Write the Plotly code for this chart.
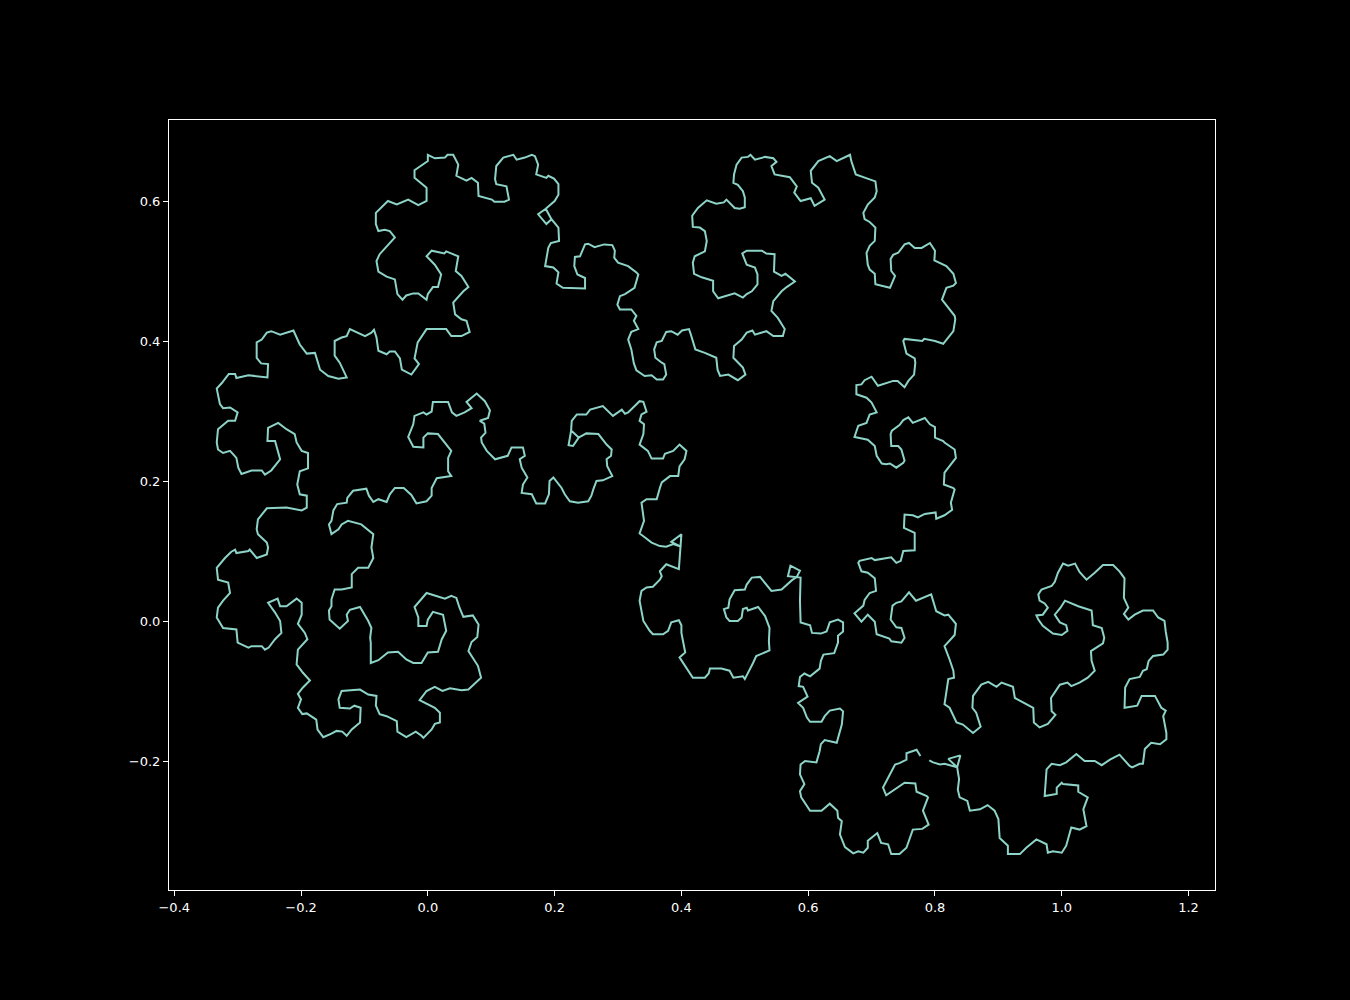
import plotly.graph_objects as go

# vertices of the curve (data units), in drawing order
curve_x = [
    0.777, 0.771, 0.755, 0.755, 0.744, 0.737, 0.729, 0.718, 0.723, 0.752, 0.769, 0.771, 0.787, 0.789, 0.781, 0.790,
    0.780, 0.765, 0.755, 0.744, 0.731, 0.726, 0.715, 0.709, 0.694, 0.694, 0.687, 0.679, 0.671, 0.658, 0.650, 0.653,
    0.647, 0.646, 0.634, 0.621, 0.603, 0.589, 0.587, 0.594, 0.587, 0.588, 0.595, 0.613, 0.618, 0.620, 0.626, 0.645,
    0.653, 0.655, 0.650, 0.634, 0.626, 0.621, 0.603, 0.598, 0.592, 0.584, 0.599, 0.592, 0.585, 0.587, 0.594, 0.603,
    0.618, 0.620, 0.624, 0.641, 0.647, 0.647, 0.655, 0.655, 0.647, 0.634, 0.629, 0.620, 0.606, 0.603, 0.588, 0.587,
    0.588, 0.568, 0.572, 0.587, 0.582, 0.574, 0.558, 0.542, 0.524, 0.511, 0.503, 0.500, 0.484, 0.476, 0.474, 0.467,
    0.471, 0.476, 0.489, 0.495, 0.497, 0.503, 0.505, 0.521, 0.532, 0.539, 0.538, 0.539, 0.518, 0.513, 0.500, 0.497,
    0.482, 0.476, 0.463, 0.445, 0.443, 0.437, 0.418, 0.397, 0.406, 0.400, 0.400, 0.396, 0.384, 0.379, 0.371, 0.355,
    0.350, 0.340, 0.334, 0.337, 0.345, 0.355, 0.366, 0.369, 0.366, 0.376, 0.396, 0.400, 0.384, 0.400, 0.387, 0.376,
    0.366, 0.353, 0.340, 0.334, 0.341, 0.337, 0.345, 0.361, 0.366, 0.369, 0.382, 0.395, 0.397, 0.405, 0.408, 0.397,
    0.387, 0.374, 0.371, 0.353, 0.347, 0.334, 0.340, 0.341, 0.334, 0.337, 0.345, 0.340, 0.334, 0.316, 0.311, 0.306,
    0.292, 0.276, 0.256, 0.250, 0.235, 0.227, 0.226, 0.222, 0.229, 0.238, 0.226, 0.238, 0.250, 0.269, 0.282, 0.290,
    0.289, 0.282, 0.283, 0.291, 0.276, 0.266, 0.261, 0.258, 0.253, 0.237, 0.224, 0.216, 0.211, 0.207, 0.198, 0.192,
    0.191, 0.185, 0.171, 0.164, 0.153, 0.148, 0.150, 0.157, 0.148, 0.145, 0.153, 0.150, 0.132, 0.126, 0.106, 0.093,
    0.085, 0.084, 0.091, 0.089, 0.082, 0.095, 0.098, 0.090, 0.077, 0.061, 0.069, 0.058, 0.045, 0.038, 0.032, 0.008,
    0.006, -0.002, -0.007, -0.021, -0.023, -0.031, -0.023, -0.007, -0.007, 0.000, 0.016, 0.027, 0.037, 0.032, 0.032,
    0.037, 0.024, 0.014, 0.006, 0.006, -0.002, -0.018, -0.026, -0.038, -0.052, -0.060, -0.065, -0.078, -0.086, -0.093,
    -0.097, -0.118, -0.127, -0.128, -0.143, -0.149, -0.152, -0.156, -0.152, -0.141, -0.136, -0.126, -0.105, -0.086,
    -0.089, -0.086, -0.094, -0.110, -0.120, -0.120, -0.136, -0.147, -0.152, -0.152, -0.156, -0.155, -0.139, -0.126,
    -0.128, -0.123, -0.107, -0.094, -0.089, -0.091, -0.090, -0.090, -0.078, -0.063, -0.047, -0.034, -0.023, -0.010,
    0.000, 0.016, 0.022, 0.029, 0.027, 0.024, 0.008, 0.000, -0.002, -0.015, -0.015, -0.021, -0.002, 0.027, 0.037,
    0.045, 0.050, 0.056, 0.071, 0.080, 0.078, 0.069, 0.064, 0.079, 0.084, 0.064, 0.053, 0.035, 0.023, 0.011, -0.002,
    -0.013, 0.011, 0.019, 0.019, 0.011, 0.006, -0.007, -0.010, -0.019, -0.034, -0.048, -0.049, -0.065, -0.076, -0.082,
    -0.081, -0.094, -0.107, -0.136, -0.141, -0.139, -0.123, -0.116, -0.106, -0.107, -0.120, -0.128, -0.135, -0.144,
    -0.152, -0.165, -0.174, -0.176, -0.191, -0.198, -0.205, -0.200, -0.205, -0.197, -0.186, -0.197, -0.207, -0.205,
    -0.190, -0.194, -0.205, -0.199, -0.199, -0.207, -0.223, -0.233, -0.237, -0.252, -0.241, -0.233, -0.231, -0.241,
    -0.251, -0.257, -0.262, -0.278, -0.283, -0.300, -0.302, -0.323, -0.333, -0.331, -0.323, -0.312, -0.315, -0.331,
    -0.333, -0.320, -0.310, -0.304, -0.302, -0.283, -0.281, -0.270, -0.254, -0.252, -0.254, -0.268, -0.270, -0.268,
    -0.254, -0.223, -0.199, -0.191, -0.191, -0.202, -0.206, -0.202, -0.189, -0.189, -0.199, -0.207, -0.210, -0.223,
    -0.236, -0.252, -0.253, -0.241, -0.233, -0.241, -0.247, -0.257, -0.262, -0.278, -0.294, -0.299, -0.302, -0.312,
    -0.323, -0.331, -0.333, -0.331, -0.315, -0.304, -0.300, -0.312, -0.323, -0.328, -0.331, -0.333, -0.325, -0.314,
    -0.304, -0.302, -0.283, -0.273, -0.253, -0.252, -0.263, -0.270, -0.270, -0.262, -0.254, -0.247, -0.233, -0.212,
    -0.202, -0.191, -0.178, -0.170, -0.157, -0.141, -0.128, -0.139, -0.147, -0.147, -0.136, -0.128, -0.123, -0.099,
    -0.089, -0.085, -0.081, -0.078, -0.065, -0.060, -0.052, -0.044, -0.041, -0.026, -0.014, -0.021, -0.016, -0.002,
    0.029, 0.037, 0.053, 0.066, 0.061, 0.053, 0.043, 0.040, 0.056, 0.064, 0.053, 0.044, 0.048, 0.029, 0.026, 0.006,
    -0.002, 0.011, 0.021, 0.016, 0.008, 0.000, -0.002, -0.015, -0.023, -0.034, -0.040, -0.048, -0.052, -0.065, -0.078,
    -0.081, -0.076, -0.063, -0.052, -0.060, -0.068, -0.078, -0.082, -0.082, -0.063, -0.049, -0.031, -0.015, -0.002,
    -0.002, -0.021, -0.021, 0.000, 0.000, 0.011, 0.027, 0.031, 0.040, 0.048, 0.045, 0.061, 0.069, 0.079, 0.080, 0.101,
    0.105, 0.121, 0.128, 0.124, 0.108, 0.106, 0.108, 0.119, 0.135, 0.140, 0.153, 0.164, 0.169, 0.174, 0.171, 0.187,
    0.190, 0.199, 0.206, 0.206, 0.200, 0.186, 0.174, 0.187, 0.195, 0.186, 0.195, 0.206, 0.207, 0.194, 0.190, 0.185,
    0.198, 0.206, 0.203, 0.213, 0.248, 0.248, 0.236, 0.231, 0.232, 0.240, 0.248, 0.253, 0.263, 0.278, 0.291, 0.295,
    0.294, 0.300, 0.316, 0.329, 0.332, 0.326, 0.311, 0.303, 0.299, 0.303, 0.321, 0.329, 0.325, 0.332, 0.321, 0.316,
    0.321, 0.325, 0.329, 0.342, 0.353, 0.361, 0.371, 0.376, 0.373, 0.369, 0.359, 0.357, 0.361, 0.369, 0.376, 0.384,
    0.394, 0.401, 0.412, 0.415, 0.422, 0.437, 0.455, 0.457, 0.461, 0.474, 0.489, 0.501, 0.497, 0.482, 0.483, 0.495,
    0.503, 0.512, 0.516, 0.534, 0.545, 0.560, 0.563, 0.552, 0.542, 0.545, 0.558, 0.566, 0.579, 0.564, 0.558, 0.546,
    0.547, 0.534, 0.527, 0.518, 0.503, 0.496, 0.503, 0.516, 0.520, 0.520, 0.511, 0.503, 0.497, 0.484, 0.471, 0.458,
    0.450, 0.450, 0.432, 0.420, 0.418, 0.421, 0.437, 0.440, 0.437, 0.429, 0.418, 0.417, 0.426, 0.440, 0.455, 0.467,
    0.471, 0.484, 0.492, 0.500, 0.500, 0.497, 0.489, 0.482, 0.483, 0.487, 0.495, 0.505, 0.509, 0.516, 0.532, 0.545,
    0.550, 0.542, 0.547, 0.558, 0.571, 0.582, 0.578, 0.588, 0.604, 0.610, 0.626, 0.616, 0.606, 0.604, 0.616, 0.634,
    0.645, 0.666, 0.668, 0.675, 0.689, 0.706, 0.708, 0.705, 0.694, 0.687, 0.689, 0.697, 0.706, 0.705, 0.697, 0.692,
    0.694, 0.697, 0.705, 0.706, 0.729, 0.737, 0.731, 0.730, 0.734, 0.742, 0.752, 0.759, 0.768, 0.779, 0.792, 0.800,
    0.799, 0.818, 0.829, 0.833, 0.829, 0.818, 0.811, 0.821, 0.831, 0.832, 0.829, 0.813, 0.800, 0.783, 0.780, 0.752,
    0.750, 0.755, 0.768, 0.769, 0.767, 0.758, 0.752, 0.741, 0.734, 0.710, 0.700, 0.689, 0.684, 0.676, 0.676, 0.692,
    0.700, 0.708, 0.697, 0.692, 0.679, 0.673, 0.694, 0.705, 0.708, 0.716, 0.723, 0.729, 0.739, 0.750, 0.752, 0.747,
    0.742, 0.731, 0.730, 0.732, 0.744, 0.750, 0.758, 0.765, 0.784, 0.792, 0.800, 0.800, 0.813, 0.815, 0.831, 0.833,
    0.815, 0.814, 0.829, 0.831, 0.825, 0.827, 0.815, 0.802, 0.801, 0.784, 0.773, 0.765, 0.752, 0.751, 0.768, 0.768,
    0.750, 0.746, 0.739, 0.731, 0.718, 0.705, 0.700, 0.681, 0.679, 0.684, 0.694, 0.705, 0.707, 0.697, 0.689, 0.687,
    0.673, 0.684, 0.694, 0.700, 0.705, 0.708, 0.728, 0.731, 0.747, 0.752, 0.747, 0.739, 0.730, 0.733, 0.739, 0.747,
    0.759, 0.770, 0.794, 0.802, 0.815, 0.821, 0.833, 0.831, 0.815, 0.823, 0.829, 0.830, 0.821, 0.815, 0.823, 0.834,
    0.844, 0.860, 0.872, 0.865, 0.859, 0.860, 0.873, 0.884, 0.897, 0.905, 0.923, 0.926, 0.955, 0.956, 0.965, 0.978,
    0.990, 0.984, 0.983, 0.997, 1.009, 1.015, 1.028, 1.041, 1.052, 1.047, 1.046, 1.065, 1.067, 1.063, 1.049, 1.048,
    1.047, 1.026, 1.005, 0.998, 0.989, 0.997, 1.007, 1.009, 1.000, 0.986, 0.970, 0.963, 0.960, 0.970, 0.978, 0.973,
    0.965, 0.963, 0.968, 0.984, 0.989, 0.994, 1.002, 1.010, 1.021, 1.028, 1.039, 1.052, 1.065, 1.081, 1.091, 1.099,
    1.098, 1.105, 1.098, 1.105, 1.115, 1.128, 1.144, 1.152, 1.162, 1.164, 1.167, 1.167, 1.160, 1.144, 1.137, 1.134,
    1.128, 1.123, 1.107, 1.100, 1.099, 1.119, 1.126, 1.134, 1.147, 1.157, 1.164, 1.160, 1.165, 1.165, 1.155, 1.141,
    1.131, 1.128, 1.123, 1.111, 1.107, 1.091, 1.076, 1.063, 1.052, 1.036, 1.023, 1.007, 0.997, 0.984, 0.976, 0.973,
    0.992, 0.992, 1.000, 1.002, 1.026, 1.026, 1.041, 1.034, 1.039, 1.028, 1.015, 1.007, 1.000, 0.986, 0.978, 0.976,
    0.960, 0.944, 0.934, 0.915, 0.915, 0.902, 0.900, 0.894, 0.883, 0.871, 0.855, 0.851, 0.839, 0.836, 0.838, 0.835,
    0.840, 0.821, 0.835, 0.815, 0.808, 0.797, 0.791,
]

curve_y = [
    -0.192, -0.183, -0.188, -0.197, -0.202, -0.204, -0.218, -0.237, -0.248, -0.230, -0.231, -0.243, -0.249, -0.251,
    -0.270, -0.290, -0.296, -0.297, -0.323, -0.332, -0.332, -0.318, -0.316, -0.302, -0.313, -0.323, -0.330, -0.328,
    -0.331, -0.322, -0.304, -0.285, -0.280, -0.270, -0.260, -0.270, -0.270, -0.251, -0.242, -0.232, -0.218, -0.204,
    -0.199, -0.201, -0.185, -0.175, -0.169, -0.173, -0.147, -0.128, -0.124, -0.127, -0.135, -0.143, -0.143, -0.137,
    -0.123, -0.116, -0.107, -0.093, -0.092, -0.079, -0.074, -0.078, -0.067, -0.056, -0.047, -0.045, -0.030, -0.020,
    -0.014, -0.001, 0.003, -0.001, -0.014, -0.017, -0.016, -0.005, -0.001, 0.030, 0.063, 0.065, 0.080, 0.073, 0.064,
    0.059, 0.046, 0.044, 0.064, 0.063, 0.053, 0.046, 0.045, 0.032, 0.020, 0.018, 0.006, 0.001, 0.001, 0.006, 0.018,
    0.020, 0.016, 0.021, 0.008, -0.009, -0.028, -0.041, -0.049, -0.059, -0.082, -0.078, -0.080, -0.070, -0.067,
    -0.067, -0.074, -0.080, -0.080, -0.051, -0.044, -0.016, -0.005, 0.002, -0.001, -0.013, -0.018, -0.018, -0.013,
    0.001, 0.030, 0.044, 0.049, 0.050, 0.060, 0.065, 0.072, 0.082, 0.075, 0.125, 0.114, 0.107, 0.111, 0.107, 0.108,
    0.113, 0.122, 0.126, 0.144, 0.170, 0.175, 0.175, 0.191, 0.199, 0.208, 0.208, 0.222, 0.232, 0.244, 0.253, 0.244,
    0.240, 0.233, 0.233, 0.244, 0.253, 0.268, 0.282, 0.287, 0.296, 0.300, 0.314, 0.315, 0.299, 0.297, 0.303, 0.294,
    0.308, 0.303, 0.296, 0.296, 0.287, 0.273, 0.252, 0.251, 0.263, 0.273, 0.263, 0.269, 0.268, 0.253, 0.246, 0.237,
    0.232, 0.222, 0.208, 0.202, 0.201, 0.189, 0.180, 0.172, 0.170, 0.172, 0.182, 0.191, 0.196, 0.206, 0.201, 0.182,
    0.169, 0.169, 0.182, 0.183, 0.184, 0.196, 0.206, 0.220, 0.232, 0.237, 0.249, 0.249, 0.237, 0.232, 0.244, 0.256,
    0.263, 0.270, 0.283, 0.287, 0.291, 0.302, 0.315, 0.326, 0.314, 0.305, 0.299, 0.294, 0.299, 0.314, 0.314, 0.300,
    0.296, 0.299, 0.294, 0.282, 0.264, 0.250, 0.249, 0.263, 0.269, 0.268, 0.256, 0.244, 0.234, 0.215, 0.208, 0.206,
    0.205, 0.191, 0.180, 0.172, 0.169, 0.181, 0.191, 0.191, 0.182, 0.171, 0.175, 0.171, 0.180, 0.190, 0.187, 0.177,
    0.170, 0.168, 0.159, 0.144, 0.139, 0.125, 0.132, 0.139, 0.144, 0.139, 0.125, 0.106, 0.091, 0.077, 0.077, 0.068,
    0.049, 0.046, 0.046, 0.032, 0.022, 0.016, 0.003, -0.010, 0.001, 0.010, 0.017, 0.021, 0.001, -0.009, -0.023,
    -0.030, -0.059, -0.055, -0.044, -0.043, -0.054, -0.059, -0.059, -0.044, -0.043, -0.025, -0.013, -0.004, 0.010,
    0.014, 0.003, -0.006, -0.006, 0.006, 0.021, 0.041, 0.033, 0.037, 0.034, 0.020, 0.007, 0.009, -0.004, -0.022,
    -0.029, -0.042, -0.063, -0.080, -0.097, -0.098, -0.095, -0.099, -0.093, -0.099, -0.112, -0.123, -0.130, -0.144,
    -0.146, -0.154, -0.166, -0.163, -0.157, -0.165, -0.157, -0.142, -0.135, -0.132, -0.120, -0.106, -0.104, -0.097,
    -0.099, -0.111, -0.123, -0.124, -0.120, -0.123, -0.144, -0.154, -0.163, -0.157, -0.156, -0.160, -0.165, -0.154,
    -0.140, -0.131, -0.132, -0.123, -0.111, -0.103, -0.094, -0.084, -0.073, -0.061, -0.040, -0.025, -0.016, -0.003,
    0.010, 0.027, 0.033, 0.022, 0.022, 0.033, 0.027, 0.013, 0.001, -0.016, -0.025, -0.037, -0.040, -0.035, -0.035,
    -0.037, -0.030, -0.011, -0.009, 0.006, 0.020, 0.030, 0.041, 0.056, 0.060, 0.077, 0.091, 0.100, 0.103, 0.098,
    0.101, 0.103, 0.091, 0.096, 0.106, 0.113, 0.125, 0.132, 0.146, 0.162, 0.163, 0.159, 0.163, 0.180, 0.182, 0.196,
    0.215, 0.219, 0.241, 0.244, 0.256, 0.268, 0.275, 0.284, 0.277, 0.258, 0.258, 0.232, 0.222, 0.216, 0.210, 0.216,
    0.216, 0.211, 0.220, 0.234, 0.244, 0.241, 0.246, 0.256, 0.275, 0.287, 0.287, 0.299, 0.306, 0.305, 0.311, 0.325,
    0.333, 0.341, 0.354, 0.354, 0.348, 0.352, 0.351, 0.349, 0.368, 0.369, 0.377, 0.399, 0.403, 0.413, 0.415, 0.410,
    0.416, 0.396, 0.383, 0.384, 0.360, 0.351, 0.347, 0.349, 0.370, 0.380, 0.401, 0.406, 0.408, 0.418, 0.408, 0.413,
    0.417, 0.406, 0.387, 0.382, 0.386, 0.386, 0.376, 0.360, 0.353, 0.368, 0.376, 0.399, 0.418, 0.418, 0.408, 0.408,
    0.414, 0.430, 0.432, 0.439, 0.456, 0.472, 0.478, 0.494, 0.501, 0.522, 0.529, 0.526, 0.530, 0.522, 0.510, 0.496,
    0.478, 0.478, 0.468, 0.460, 0.469, 0.469, 0.466, 0.460, 0.468, 0.489, 0.493, 0.500, 0.515, 0.525, 0.538, 0.549,
    0.558, 0.560, 0.558, 0.568, 0.584, 0.601, 0.596, 0.603, 0.595, 0.601, 0.620, 0.634, 0.645, 0.658, 0.667, 0.662,
    0.663, 0.667, 0.667, 0.653, 0.637, 0.630, 0.634, 0.627, 0.608, 0.603, 0.600, 0.600, 0.603, 0.622, 0.625, 0.632,
    0.651, 0.663, 0.667, 0.660, 0.663, 0.667, 0.665, 0.653, 0.639, 0.634, 0.637, 0.633, 0.625, 0.610, 0.601, 0.590,
    0.582, 0.568, 0.575, 0.590, 0.575, 0.563, 0.544, 0.541, 0.534, 0.508, 0.506, 0.499, 0.483, 0.477, 0.476, 0.491,
    0.496, 0.508, 0.521, 0.522, 0.539, 0.540, 0.535, 0.539, 0.538, 0.530, 0.520, 0.513, 0.508, 0.499, 0.496, 0.477,
    0.468, 0.465, 0.453, 0.446, 0.446, 0.437, 0.430, 0.418, 0.414, 0.403, 0.389, 0.369, 0.359, 0.351, 0.352, 0.346,
    0.346, 0.353, 0.368, 0.370, 0.377, 0.389, 0.399, 0.401, 0.414, 0.415, 0.410, 0.416, 0.418, 0.410, 0.389, 0.384,
    0.377, 0.360, 0.351, 0.353, 0.345, 0.353, 0.363, 0.377, 0.394, 0.403, 0.413, 0.416, 0.410, 0.415, 0.408, 0.408,
    0.418, 0.434, 0.444, 0.458, 0.472, 0.478, 0.486, 0.497, 0.494, 0.500, 0.525, 0.526, 0.530, 0.530, 0.530, 0.526,
    0.510, 0.506, 0.496, 0.482, 0.472, 0.468, 0.463, 0.469, 0.466, 0.462, 0.472, 0.487, 0.492, 0.497, 0.513, 0.522,
    0.529, 0.544, 0.558, 0.563, 0.564, 0.580, 0.591, 0.602, 0.597, 0.599, 0.603, 0.591, 0.590, 0.592, 0.606, 0.615,
    0.624, 0.627, 0.639, 0.653, 0.663, 0.664, 0.667, 0.660, 0.664, 0.662, 0.657, 0.651, 0.639, 0.637, 0.635, 0.622,
    0.613, 0.601, 0.605, 0.594, 0.603, 0.620, 0.627, 0.644, 0.658, 0.665, 0.658, 0.667, 0.658, 0.639, 0.634, 0.629,
    0.615, 0.606, 0.596, 0.584, 0.575, 0.571, 0.563, 0.544, 0.537, 0.527, 0.510, 0.503, 0.497, 0.482, 0.477, 0.494,
    0.501, 0.518, 0.524, 0.527, 0.539, 0.541, 0.534, 0.534, 0.541, 0.530, 0.516, 0.508, 0.497, 0.484, 0.480, 0.477,
    0.460, 0.449, 0.437, 0.432, 0.415, 0.397, 0.401, 0.404, 0.401, 0.404, 0.401, 0.383, 0.376, 0.370, 0.353, 0.344,
    0.335, 0.344, 0.344, 0.337, 0.350, 0.345, 0.339, 0.338, 0.325, 0.320, 0.313, 0.299, 0.296, 0.284, 0.280, 0.264,
    0.260, 0.251, 0.237, 0.226, 0.225, 0.226, 0.220, 0.227, 0.230, 0.246, 0.251, 0.251, 0.268, 0.273, 0.281, 0.288,
    0.292, 0.284, 0.291, 0.282, 0.278, 0.263, 0.258, 0.256, 0.246, 0.234, 0.213, 0.196, 0.191, 0.189, 0.170, 0.160,
    0.152, 0.147, 0.156, 0.154, 0.149, 0.152, 0.153, 0.134, 0.127, 0.102, 0.101, 0.087, 0.084, 0.092, 0.090, 0.088,
    0.091, 0.087, 0.084, 0.072, 0.070, 0.062, 0.044, 0.041, 0.031, 0.023, 0.012, 0.000, 0.010, 0.005, 0.000, -0.018,
    -0.024, -0.028, -0.030, -0.023, -0.009, -0.008, 0.003, 0.023, 0.027, 0.029, 0.042, 0.030, 0.039, 0.015, 0.009,
    0.010, -0.003, -0.019, -0.035, -0.054, -0.070, -0.080, -0.082, -0.118, -0.123, -0.144, -0.147, -0.159, -0.150,
    -0.130, -0.123, -0.106, -0.090, -0.086, -0.093, -0.087, -0.093, -0.109, -0.123, -0.144, -0.151, -0.146, -0.133,
    -0.128, -0.109, -0.090, -0.087, -0.092, -0.087, -0.080, -0.070, -0.056, -0.042, -0.031, -0.023, -0.009, -0.005,
    0.007, 0.016, 0.022, 0.030, 0.020, 0.010, -0.001, -0.005, -0.013, -0.019, -0.017, -0.006, 0.003, 0.009, 0.010,
    0.020, 0.026, 0.030, 0.039, 0.046, 0.051, 0.057, 0.070, 0.083, 0.080, 0.083, 0.071, 0.060, 0.070, 0.081, 0.081,
    0.072, 0.062, 0.034, 0.020, 0.011, 0.003, 0.010, 0.016, 0.016, 0.006, 0.001, -0.014, -0.030, -0.040, -0.047,
    -0.049, -0.056, -0.068, -0.070, -0.079, -0.082, -0.094, -0.123, -0.120, -0.106, -0.106, -0.106, -0.123, -0.127,
    -0.135, -0.159, -0.168, -0.175, -0.173, -0.182, -0.203, -0.203, -0.208, -0.206, -0.190, -0.197, -0.205, -0.199,
    -0.199, -0.189, -0.201, -0.205, -0.203, -0.211, -0.249, -0.246, -0.237, -0.230, -0.232, -0.234, -0.243, -0.251,
    -0.268, -0.292, -0.297, -0.294, -0.320, -0.330, -0.328, -0.330, -0.318, -0.311, -0.323, -0.332, -0.332, -0.320,
    -0.309, -0.282, -0.270, -0.262, -0.268, -0.270, -0.256, -0.251, -0.240, -0.225, -0.208, -0.191, -0.196, -0.208,
    -0.203, -0.204, -0.201, -0.198,
]

x_ticks = [-0.4, -0.2, 0.0, 0.2, 0.4, 0.6, 0.8, 1.0, 1.2]
y_ticks = [-0.2, 0.0, 0.2, 0.4, 0.6]

fig = go.Figure()

fig.add_trace(
    go.Scatter(
        x=curve_x,
        y=curve_y,
        mode="lines",
        line=dict(color="#8dd3c7", width=2),
        hoverinfo="skip",
        showlegend=False,
    )
)

axis_style = dict(
    showline=True,
    linecolor="white",
    linewidth=1,
    mirror=True,
    showgrid=False,
    zeroline=False,
    ticks="outside",
    ticklen=5,
    tickwidth=1,
    tickcolor="white",
    tickformat=".1f",
    tickfont=dict(family="DejaVu Sans", size=13, color="white"),
)

fig.update_xaxes(range=[-0.4083, 1.2417], tickvals=x_ticks, **axis_style)
fig.update_yaxes(range=[-0.3833, 0.7167], tickvals=y_ticks, **axis_style)

fig.update_layout(
    width=1350,
    height=1000,
    margin=dict(l=169, r=135, t=120, b=110),
    paper_bgcolor="black",
    plot_bgcolor="black",
)

# drop the page's default body margin so the figure sits flush in the window
fig.write_html(
    "out.html",
    config={"displayModeBar": False},
    post_script="document.body.style.margin='0';document.body.style.background='black';document.body.style.overflow='hidden';",
)
